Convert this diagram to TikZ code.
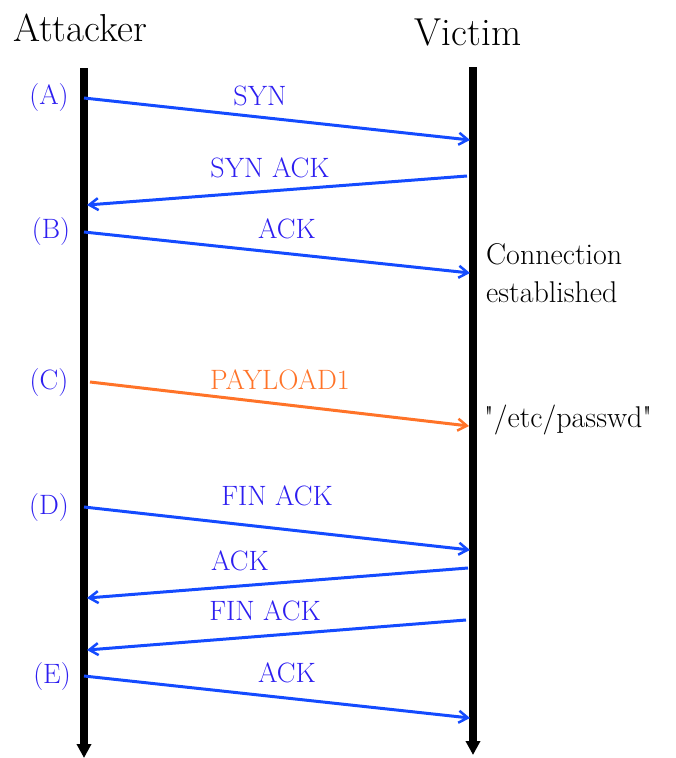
\documentclass[tikz,border=0pt]{standalone}
\usetikzlibrary{arrows.meta}
\definecolor{msgblue}{RGB}{20,75,255}
\definecolor{txtblue}{RGB}{45,30,240}
\definecolor{msgorange}{RGB}{255,115,40}
\begin{document}
\begin{tikzpicture}[x=1pt,y=-1pt,
  life/.style={line width=8pt,-{Triangle[length=14pt,width=14pt]}},
  msg/.style={msgblue,line width=3pt,-{Straight Barb[length=9pt,width=12pt,line width=2.5pt]}},
  omsg/.style={msgorange,line width=3pt,-{Straight Barb[length=9pt,width=12pt,line width=2.5pt]}},
  lbl/.style={txtblue,font=\fontsize{28}{30}\selectfont,inner sep=0pt},
  olbl/.style={msgorange,font=\fontsize{28}{30}\selectfont,inner sep=0pt},
  ttl/.style={font=\fontsize{39}{40}\selectfont,inner sep=0pt},
  note/.style={font=\fontsize{30}{38}\selectfont,inner sep=0pt,align=left}]
\useasboundingbox (0,0) rectangle (675,758);
% titles
\node[ttl] (att) at (80,28) {Attacker};
\node[ttl] (vic) at (468,32) {Victim};
% lifelines
\coordinate (a0) at (84,68); \coordinate (a1) at (84,758);
\coordinate (v0) at (473,67); \coordinate (v1) at (473,755);
\draw[life] (a0) -- (a1);
\draw[life] (v0) -- (v1);
% step labels
\node[lbl] (lA) at (49,98) {(A)};
\node[lbl] (lB) at (51,232) {(B)};
\node[lbl] (lC) at (49,383) {(C)};
\node[lbl] (lD) at (49,508) {(D)};
\node[lbl] (lE) at (52,677) {(E)};
% endpoints
\coordinate (s1) at (84,98);  \coordinate (e1) at (470,140);
\coordinate (s2) at (467,176); \coordinate (e2) at (87,205);
\coordinate (s3) at (84,232); \coordinate (e3) at (470,273);
\coordinate (s4) at (90,382); \coordinate (e4) at (469,426);
\coordinate (s5) at (84,507); \coordinate (e5) at (470,550);
\coordinate (s6) at (468,568); \coordinate (e6) at (87,598);
\coordinate (s7) at (466,620); \coordinate (e7) at (87,650);
\coordinate (s8) at (84,676); \coordinate (e8) at (470,718);
\draw[msg] (s1) -- (e1);
\draw[msg] (s2) -- (e2);
\draw[msg] (s3) -- (e3);
\draw[omsg] (s4) -- (e4);
\draw[msg] (s5) -- (e5);
\draw[msg] (s6) -- (e6);
\draw[msg] (s7) -- (e7);
\draw[msg] (s8) -- (e8);
% message labels
\node[lbl] (m1) at (260,96) {SYN};
\node[lbl] (m2) at (270,168) {SYN ACK};
\node[lbl] (m3) at (287,229) {ACK};
\node[olbl] (m4) at (280,380) {PAYLOAD1};
\node[lbl] (m5) at (277,496) {FIN ACK};
\node[lbl] (m6) at (240,561) {ACK};
\node[lbl] (m7) at (265,611) {FIN ACK};
\node[lbl] (m8) at (287,673) {ACK};
% notes
\node[note,anchor=west] (n1) at (486,273) {Connection\\established};
\node[note,anchor=west] (n2) at (484,420) {\textquotedbl/etc/passwd\textquotedbl};
\end{tikzpicture}
\end{document}
